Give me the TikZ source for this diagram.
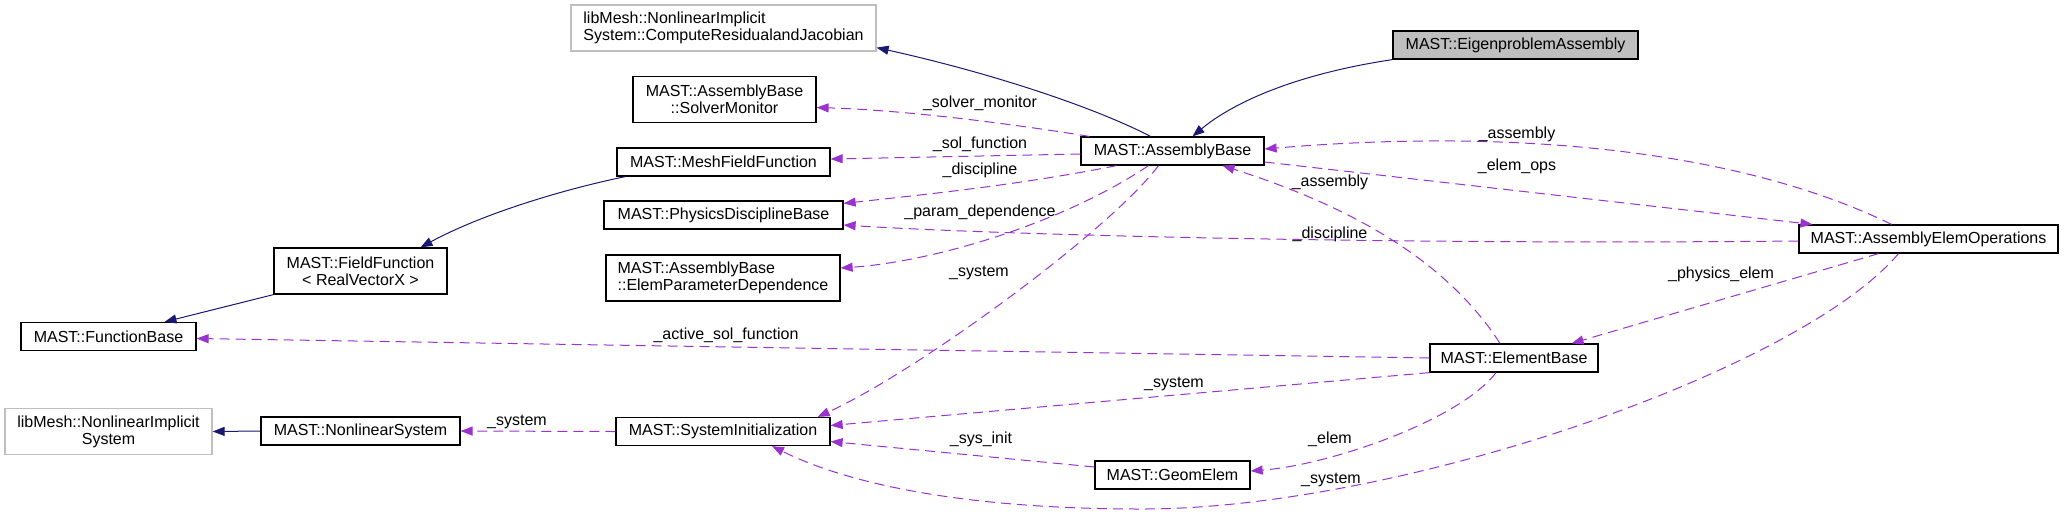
\documentclass[tikz,border=0pt]{standalone}
\usepackage{fontspec}
\setmainfont{Liberation Sans}
\usepackage{tikz}
\usetikzlibrary{arrows.meta}
\definecolor{dxnavy}{HTML}{191970}
\definecolor{dxorchid}{HTML}{9A32CD}
\definecolor{dxgray}{HTML}{BFBFBF}
\newcommand{\dxfont}{\fontsize{8}{8.5}\selectfont}

\begin{document}
\begin{tikzpicture}[
      x=0.5pt, y=-0.5pt,
      cls/.style={draw=black, fill=white, line width=0.6pt,
                  font=\dxfont, inner sep=2pt, align=center,
                  minimum height=14pt},
      ext/.style={cls, draw=dxgray},
      two/.style={minimum height=23pt},
      inh/.style={draw=dxnavy, line width=0.5pt,
                  -{Triangle[length=6pt, width=4.5pt]}},
      use/.style={draw=dxorchid, line width=0.5pt, dash pattern=on 5pt off 3pt,
                  -{Triangle[length=6pt, width=4.5pt]}},
      lbl/.style={font=\dxfont, inner sep=0pt}]

    \useasboundingbox (0,0) rectangle (2064,516);

    % ── Classes ──
    \node[cls, fill=dxgray, minimum width=122.5pt] (eigen) at (1515.5,45) {MAST::EigenproblemAssembly};
    \node[cls, minimum width=91.5pt] (ab) at (1172.5,151) {MAST::AssemblyBase};
    \node[ext, two, align=left, minimum width=152.5pt] (cr) at (723.5,28)
      {libMesh::NonlinearImplicit\\System::ComputeResidualandJacobian};
    \node[cls, two, minimum width=91.5pt] (sm) at (724.5,99.5) {MAST::AssemblyBase\\::SolverMonitor};
    \node[cls, minimum width=106.5pt] (mff) at (723.5,162) {MAST::MeshFieldFunction};
    \node[cls, minimum width=119.5pt] (pdb) at (723.5,215) {MAST::PhysicsDisciplineBase};
    \node[cls, two, align=left, minimum width=117pt] (epd) at (723,278)
      {MAST::AssemblyBase\\::ElemParameterDependence};
    \node[cls, two, minimum width=86.5pt] (ff) at (360.5,271) {MAST::FieldFunction\\< RealVectorX >};
    \node[cls, minimum width=87.5pt] (fb) at (108.5,336.5) {MAST::FunctionBase};
    \node[ext, two, minimum width=103.5pt] (nlis) at (108.5,431.5) {libMesh::NonlinearImplicit\\System};
    \node[cls, minimum width=99.5pt] (nls) at (360.5,431) {MAST::NonlinearSystem};
    \node[cls, minimum width=107pt] (si) at (723,431.5) {MAST::SystemInitialization};
    \node[cls, minimum width=84pt] (eb) at (1514,358) {MAST::ElementBase};
    \node[cls, minimum width=77.5pt] (ge) at (1172.5,475) {MAST::GeomElem};
    \node[cls, minimum width=129.5pt] (aeo) at (1928.5,239) {MAST::AssemblyElemOperations};

    % ── Inheritance ──
    \draw[inh] (eigen.south west) .. controls (1290,75) and (1230,105) .. ([xshift=10pt]ab.north);
    \draw[inh] ([xshift=-11pt]ab.north) .. controls (1100,110) and (1000,75) .. ([yshift=2pt]cr.south east);
    \draw[inh] ([xshift=4.5pt]mff.south west) .. controls (560,190) and (480,215) .. ([xshift=30pt]ff.north);
    \draw[inh] (ff.south west) -- ([xshift=28pt]fb.north);
    \draw[inh] (nls.west) -- (nlis.east);

    % ── Usage ──
    \draw[use] ([xshift=4.5pt]ab.north west) .. controls (1000,122) and (900,110) .. ([yshift=-4pt]sm.east);
    \draw[use] ([yshift=-1.5pt]ab.west) -- ([yshift=1.5pt]mff.east);
    \draw[use] ([xshift=-28pt]ab.south) .. controls (1020,185) and (920,195) .. ([yshift=-1.5pt]pdb.north east);
    \draw[use] ([xshift=-12pt]ab.south) .. controls (1060,225) and (930,262) .. ([yshift=5pt]epd.east);
    \draw[use] ([xshift=-7pt]ab.south) .. controls (1110,230) and (920,370) .. ([xshift=-6.5pt]si.north east);
    \draw[use] ([xshift=-18.5pt]aeo.north) .. controls (1760,160) and (1550,125) .. ([yshift=1pt]ab.east);
    \draw[use] ([yshift=-5.5pt]ab.east) -- ([xshift=7pt]aeo.north west);
    \draw[use] ([xshift=-7pt]eb.north) .. controls (1440,250) and (1330,200) .. ([xshift=25pt]ab.south);
    \draw[use] ([yshift=-1pt]aeo.west) .. controls (1400,245) and (1000,235) .. ([yshift=-5pt]pdb.east);
    \draw[use] ([xshift=-25pt]aeo.south) -- ([xshift=-13.5pt]eb.north east);
    \draw[use] ([xshift=-15pt]aeo.south) .. controls (1800,370) and (1400,509) .. (1142,509)
      .. controls (950,509) and (840,480) .. ([xshift=24.5pt]si.south);
    \draw[use] (eb.west) -- ([yshift=-1pt]fb.east);
    \draw[use] (eb.south west) -- ([yshift=3pt]si.east);
    \draw[use] ([xshift=-9pt]eb.south) .. controls (1460,420) and (1330,465) .. ([yshift=2pt]ge.east);
    \draw[use] ([yshift=4pt]ge.west) -- ([yshift=-5pt]si.east);
    \draw[use] (si.west) -- (nls.east);

    % ── Labels ──
    \node[lbl] (lSolMon) at (980,103) {\_solver\_monitor};
    \node[lbl] (lSolFn) at (980,144) {\_sol\_function};
    \node[lbl] (lDiscAb) at (980,170) {\_discipline};
    \node[lbl] (lParDep) at (980,212) {\_param\_dependence};
    \node[lbl] (lSysAb) at (979,273) {\_system};
    \node[lbl] (lAsmAeo) at (1517,134) {\_assembly};
    \node[lbl] (lElemOps) at (1517,166) {\_elem\_ops};
    \node[lbl] (lAsmEb) at (1330,182) {\_assembly};
    \node[lbl] (lDiscAeo) at (1330,234) {\_discipline};
    \node[lbl] (lPhysEl) at (1721,274) {\_physics\_elem};
    \node[lbl] (lActSol) at (726,335) {\_active\_sol\_function};
    \node[lbl] (lSysEb) at (1174,384) {\_system};
    \node[lbl] (lElem) at (1330,439) {\_elem};
    \node[lbl] (lSysInit) at (981,439) {\_sys\_init};
    \node[lbl] (lSysAeo) at (1331,480) {\_system};
    \node[lbl] (lSysSi) at (517,422) {\_system};

  \end{tikzpicture}
\end{document}
